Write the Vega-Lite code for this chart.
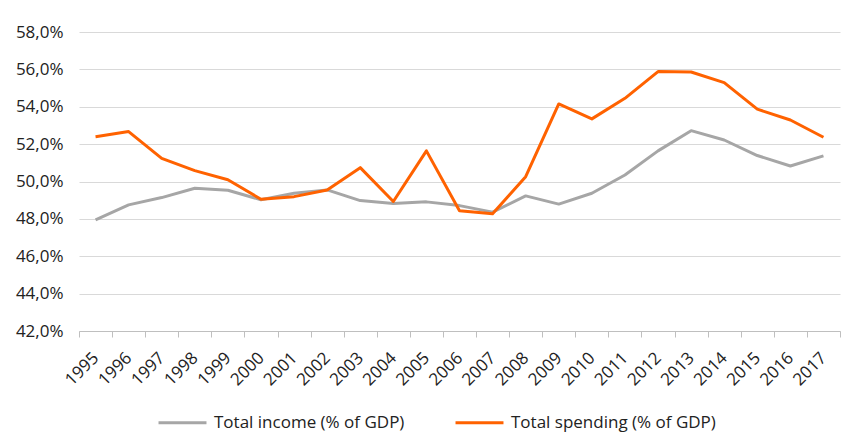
{
  "$schema": "https://vega.github.io/schema/vega-lite/v6.json",
  "width": 761,
  "height": 299,
  "autosize": {"type": "none"},
  "padding": {"left": 79, "top": 32, "right": 14, "bottom": 104},
  "background": "white",
  "data": {
    "values": [
      {"year": "1995", "series": "Total income (% of GDP)", "value": 47.95},
      {"year": "1996", "series": "Total income (% of GDP)", "value": 48.75},
      {"year": "1997", "series": "Total income (% of GDP)", "value": 49.14},
      {"year": "1998", "series": "Total income (% of GDP)", "value": 49.64},
      {"year": "1999", "series": "Total income (% of GDP)", "value": 49.53},
      {"year": "2000", "series": "Total income (% of GDP)", "value": 49.02},
      {"year": "2001", "series": "Total income (% of GDP)", "value": 49.37},
      {"year": "2002", "series": "Total income (% of GDP)", "value": 49.55},
      {"year": "2003", "series": "Total income (% of GDP)", "value": 48.98},
      {"year": "2004", "series": "Total income (% of GDP)", "value": 48.82},
      {"year": "2005", "series": "Total income (% of GDP)", "value": 48.91},
      {"year": "2006", "series": "Total income (% of GDP)", "value": 48.71},
      {"year": "2007", "series": "Total income (% of GDP)", "value": 48.36},
      {"year": "2008", "series": "Total income (% of GDP)", "value": 49.23},
      {"year": "2009", "series": "Total income (% of GDP)", "value": 48.79},
      {"year": "2010", "series": "Total income (% of GDP)", "value": 49.37},
      {"year": "2011", "series": "Total income (% of GDP)", "value": 50.35},
      {"year": "2012", "series": "Total income (% of GDP)", "value": 51.64},
      {"year": "2013", "series": "Total income (% of GDP)", "value": 52.72},
      {"year": "2014", "series": "Total income (% of GDP)", "value": 52.22},
      {"year": "2015", "series": "Total income (% of GDP)", "value": 51.39},
      {"year": "2016", "series": "Total income (% of GDP)", "value": 50.83},
      {"year": "2017", "series": "Total income (% of GDP)", "value": 51.37},
      {"year": "1995", "series": "Total spending (% of GDP)", "value": 52.4},
      {"year": "1996", "series": "Total spending (% of GDP)", "value": 52.67},
      {"year": "1997", "series": "Total spending (% of GDP)", "value": 51.24},
      {"year": "1998", "series": "Total spending (% of GDP)", "value": 50.58},
      {"year": "1999", "series": "Total spending (% of GDP)", "value": 50.09},
      {"year": "2000", "series": "Total spending (% of GDP)", "value": 49.05},
      {"year": "2001", "series": "Total spending (% of GDP)", "value": 49.19},
      {"year": "2002", "series": "Total spending (% of GDP)", "value": 49.55},
      {"year": "2003", "series": "Total spending (% of GDP)", "value": 50.74},
      {"year": "2004", "series": "Total spending (% of GDP)", "value": 48.93},
      {"year": "2005", "series": "Total spending (% of GDP)", "value": 51.64},
      {"year": "2006", "series": "Total spending (% of GDP)", "value": 48.44},
      {"year": "2007", "series": "Total spending (% of GDP)", "value": 48.27},
      {"year": "2008", "series": "Total spending (% of GDP)", "value": 50.26},
      {"year": "2009", "series": "Total spending (% of GDP)", "value": 54.15},
      {"year": "2010", "series": "Total spending (% of GDP)", "value": 53.35},
      {"year": "2011", "series": "Total spending (% of GDP)", "value": 54.45},
      {"year": "2012", "series": "Total spending (% of GDP)", "value": 55.88},
      {"year": "2013", "series": "Total spending (% of GDP)", "value": 55.86},
      {"year": "2014", "series": "Total spending (% of GDP)", "value": 55.29},
      {"year": "2015", "series": "Total spending (% of GDP)", "value": 53.87},
      {"year": "2016", "series": "Total spending (% of GDP)", "value": 53.29},
      {"year": "2017", "series": "Total spending (% of GDP)", "value": 52.37}
    ]
  },
  "mark": {"type": "line", "strokeWidth": 3, "strokeJoin": "round"},
  "encoding": {
    "x": {
      "field": "year",
      "type": "ordinal",
      "bandPosition": 0.5,
      "scale": {"type": "band", "paddingInner": 0, "paddingOuter": 0},
      "axis": {
        "title": null,
        "labelAngle": -45,
        "labelAlign": "right",
        "labelBaseline": "middle",
        "labelFont": "Open Sans",
        "labelFontSize": 17,
        "labelColor": "#222222",
        "labelPadding": 18,
        "tickBand": "extent",
        "tickColor": "#bfbfbf",
        "tickSize": 6,
        "domainColor": "#bfbfbf",
        "grid": false
      }
    },
    "y": {
      "field": "value",
      "type": "quantitative",
      "scale": {"domain": [42, 58], "nice": false, "zero": false},
      "axis": {
        "title": null,
        "values": [42, 44, 46, 48, 50, 52, 54, 56, 58],
        "labelExpr": "replace(format(datum.value, '.1f'), '.', ',') + '%'",
        "labelFont": "Open Sans",
        "labelFontSize": 17,
        "labelColor": "#222222",
        "labelPadding": 16,
        "domain": false,
        "ticks": false,
        "grid": true,
        "gridColor": "#d9d9d9",
        "gridWidth": 1
      }
    },
    "color": {
      "field": "series",
      "type": "nominal",
      "scale": {
        "domain": ["Total income (% of GDP)", "Total spending (% of GDP)"],
        "range": ["#a6a6a6", "#ff6200"]
      },
      "legend": {
        "title": null,
        "orient": "none",
        "legendX": 78,
        "legendY": 365,
        "direction": "horizontal",
        "symbolType": "stroke",
        "symbolStrokeWidth": 3,
        "symbolSize": 2300,
        "labelFont": "Open Sans",
        "labelFontSize": 17,
        "labelColor": "#222222",
        "labelLimit": 0,
        "labelOffset": 6,
        "columnPadding": 44
      }
    }
  },
  "config": {"view": {"stroke": null}}
}
